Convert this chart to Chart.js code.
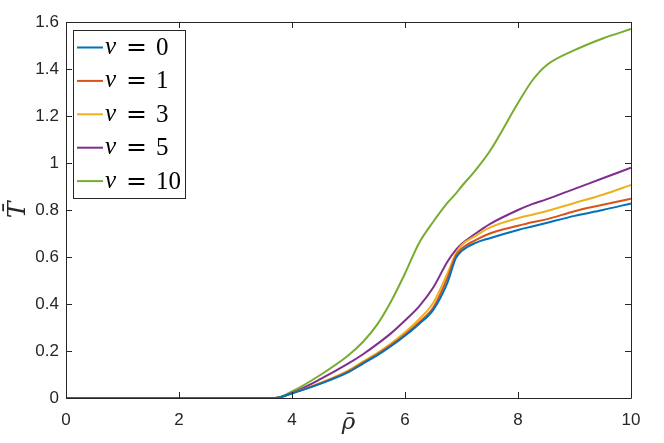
<!DOCTYPE html>
<html>
<head>
<meta charset="utf-8">
<script src="https://cdn.jsdelivr.net/npm/chart.js@4"></script>
<style>
  body { margin: 0; background: #fff; }
</style>
</head>
<body>
<canvas id="plot" width="664" height="443"></canvas>
<script>
// rho-bar grid shared by all curves
const rho = [0, 1, 2, 3, 3.7, 4, 4.5, 5, 5.25, 5.5, 5.75, 6, 6.25, 6.5, 6.75, 6.9, 7, 7.25, 7.5, 8, 8.25, 8.5, 9, 9.5, 10];

const nu0  = [0, 0, 0, 0, 0, 0.02, 0.06, 0.11, 0.145, 0.18, 0.22, 0.265, 0.315, 0.375, 0.49, 0.595, 0.625, 0.66, 0.68, 0.715, 0.73, 0.745, 0.775, 0.80, 0.828];
const nu1  = [0, 0, 0, 0, 0, 0.02, 0.062, 0.113, 0.15, 0.185, 0.225, 0.27, 0.322, 0.385, 0.51, 0.605, 0.635, 0.672, 0.70, 0.733, 0.748, 0.76, 0.795, 0.822, 0.848];
const nu3  = [0, 0, 0, 0, 0, 0.02, 0.064, 0.118, 0.155, 0.19, 0.232, 0.28, 0.335, 0.405, 0.53, 0.615, 0.65, 0.69, 0.725, 0.765, 0.78, 0.795, 0.83, 0.865, 0.907];
const nu5  = [0, 0, 0, 0, 0, 0.022, 0.08, 0.147, 0.185, 0.228, 0.275, 0.33, 0.39, 0.47, 0.58, 0.63, 0.655, 0.70, 0.74, 0.80, 0.825, 0.845, 0.89, 0.935, 0.98];
const nu10 = [0, 0, 0, 0, 0, 0.028, 0.098, 0.182, 0.237, 0.31, 0.41, 0.53, 0.66, 0.75, 0.83, 0.87, 0.9, 0.97, 1.05, 1.255, 1.35, 1.415, 1.48, 1.53, 1.57];

const nuValues = ['0', '1', '3', '5', '10'];
const seriesData = [nu0, nu1, nu3, nu5, nu10];
const colors = ['#0072BD', '#D95319', '#EDB120', '#7E2F8E', '#77AC30'];

const xTicks = [0, 2, 4, 6, 8, 10];
const yTicks = [0, 0.2, 0.4, 0.6, 0.8, 1, 1.2, 1.4, 1.6];

const axisColor = '#262626';

// box around the axes with inward ticks, like matlab
const boxPlugin = {
    id: 'box',
    afterDraw(chart) {
        const ctx = chart.ctx;
        const a = chart.chartArea;
        const xs = chart.scales.x, ys = chart.scales.y;
        const len = 6;
        ctx.save();
        ctx.strokeStyle = axisColor;
        ctx.lineWidth = 1;
        ctx.beginPath();
        ctx.rect(Math.round(a.left) + 0.5, Math.round(a.top) + 0.5, Math.round(a.right - a.left), Math.round(a.bottom - a.top));
        xTicks.forEach(v => {
            const px = Math.round(xs.getPixelForValue(v)) + 0.5;
            ctx.moveTo(px, a.bottom); ctx.lineTo(px, a.bottom - len);
            ctx.moveTo(px, a.top); ctx.lineTo(px, a.top + len);
        });
        yTicks.forEach(v => {
            const py = Math.round(ys.getPixelForValue(v)) + 0.5;
            ctx.moveTo(a.left, py); ctx.lineTo(a.left + len, py);
            ctx.moveTo(a.right, py); ctx.lineTo(a.right - len, py);
        });
        ctx.stroke();

        // legend box
        const lx = 73.5, ly = 30.5, lw = 112, lh = 168;
        ctx.fillStyle = '#fff';
        ctx.fillRect(lx, ly, lw, lh);
        ctx.strokeRect(lx, ly, lw, lh);
        ctx.textBaseline = 'middle';
        ctx.textAlign = 'left';
        chart.data.datasets.forEach((ds, i) => {
            const y = 47.5 + i * 33.4;
            ctx.strokeStyle = ds.borderColor;
            ctx.lineWidth = 2;
            ctx.beginPath();
            ctx.moveTo(77, y); ctx.lineTo(103, y);
            ctx.stroke();
            ctx.fillStyle = '#000';
            ctx.font = 'italic 25px "Liberation Serif"';
            ctx.fillText('\u03BD', 105, y);
            ctx.font = '25px "DejaVu Serif"';
            ctx.fillText('=', 126, y + 1);
            ctx.font = '25px "Liberation Serif"';
            ctx.fillText(ds.label, 156, y + 1);
        });
        ctx.restore();
    }
};

new Chart(document.getElementById('plot'), {
    type: 'line',
    data: {
        datasets: seriesData.map((vals, i) => ({
            label: nuValues[i],
            data: rho.map((r, j) => ({ x: r, y: vals[j] })),
            borderColor: colors[i],
            backgroundColor: colors[i],
            borderWidth: 2,
            pointRadius: 0,
            cubicInterpolationMode: 'monotone',
            fill: false
        }))
    },
    options: {
        responsive: false,
        animation: false,
        layout: { padding: { top: 22, right: 33, left: 0, bottom: 0 } },
        plugins: {
            legend: { display: false },
            tooltip: { enabled: false }
        },
        scales: {
            x: {
                type: 'linear',
                min: 0, max: 10,
                grid: { display: false, drawTicks: false },
                border: { display: false },
                afterFit: s => { s.height = 45; },
                afterBuildTicks: s => { s.ticks = xTicks.map(v => ({ value: v })); },
                ticks: { color: axisColor, font: { family: 'Liberation Sans', size: 17 }, padding: 12, maxRotation: 0 },
                title: {
                    display: true, text: '\u03C1\u0304', color: axisColor,
                    font: { family: 'DejaVu Serif', size: 23, style: 'italic' },
                    padding: { top: 0, bottom: 6 }
                }
            },
            y: {
                min: 0, max: 1.6,
                grid: { display: false, drawTicks: false },
                border: { display: false },
                afterFit: s => { s.width = 66; },
                afterBuildTicks: s => { s.ticks = yTicks.map(v => ({ value: v })); },
                ticks: {
                    color: axisColor, font: { family: 'Liberation Sans', size: 17 }, padding: 7,
                    callback: v => String(Math.round(v * 10) / 10)
                },
                title: {
                    display: true, text: 'T\u0304', color: axisColor,
                    font: { family: 'DejaVu Serif', size: 25, style: 'italic' },
                    padding: { top: 3, bottom: 0 }
                }
            }
        }
    },
    plugins: [boxPlugin]
});
</script>
</body>
</html>
